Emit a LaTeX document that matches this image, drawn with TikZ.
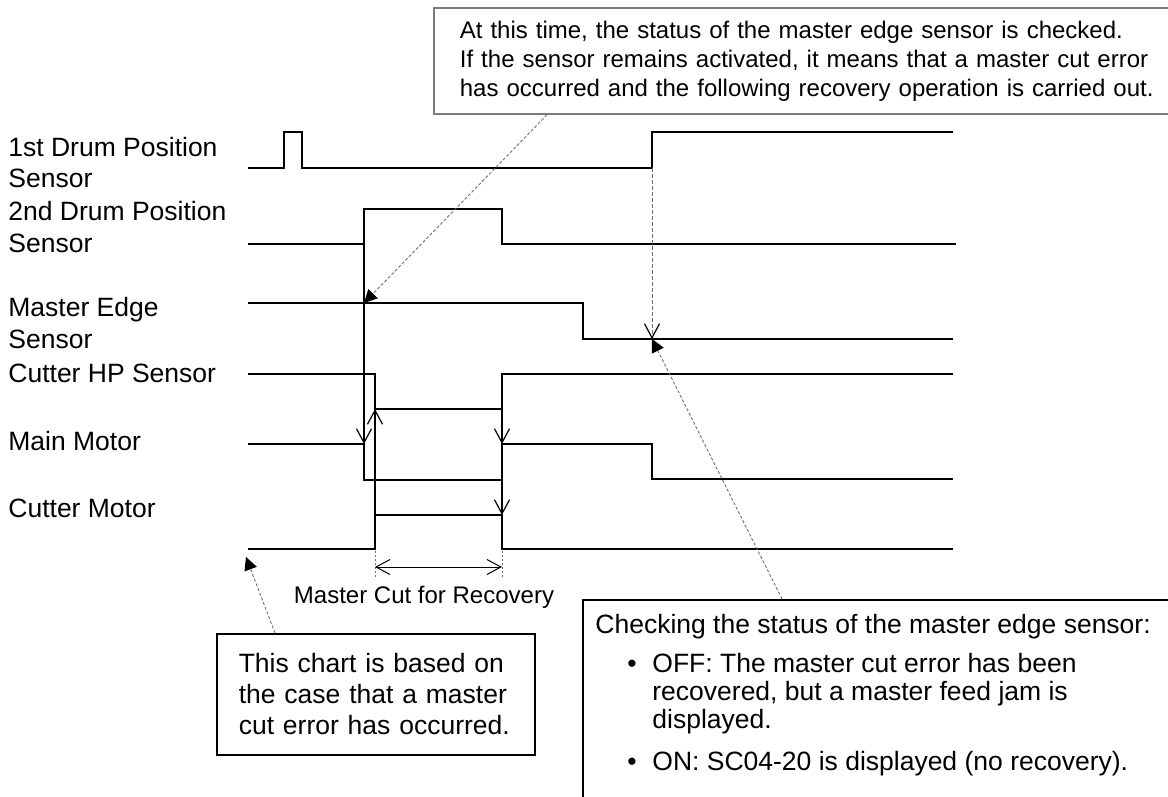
\documentclass[tikz,border=0pt]{standalone}
\usepackage{fontspec}
\setmainfont{Liberation Sans}
\usetikzlibrary{arrows.meta,positioning}
\definecolor{ink}{HTML}{000000}
\definecolor{callgray}{HTML}{6E6E6E}
\definecolor{framegray}{HTML}{7A7A7A}
\newcommand{\lblfont}{\fontsize{13.25}{15.75}\selectfont}
\newcommand{\notefont}{\fontsize{12}{14.5}\selectfont}
\newcommand{\boxfont}{\fontsize{13.25}{15.5}\selectfont}
\newcommand{\listfont}{\fontsize{13.25}{14}\selectfont}
\newcommand{\bul}{\makebox[28.5pt][l]{\hspace*{16pt}\textbullet}}
\tikzset{
  sig/.style={draw=ink,line width=1pt,line join=miter},
  barb/.style={draw=ink,line width=1pt,-{Straight Barb[length=7pt,width=7.5pt,line width=.6pt]}},
  trig/.style={draw=callgray,line width=.5pt,dash pattern=on 2pt off 1pt,-{Straight Barb[length=7pt,width=7.5pt,line width=.6pt,ink]}},
  callout/.style={draw=callgray,line width=.45pt,dash pattern=on 1.5pt off 1pt,-{Triangle[length=6.5pt,width=6.5pt,ink]}},
  extline/.style={draw=callgray,line width=.4pt,dash pattern=on 1pt off 1pt},
  dimline/.style={draw=ink,line width=.5pt,{Straight Barb[length=7pt,width=7.5pt]}-{Straight Barb[length=7pt,width=7.5pt]}},
  lbl/.style={anchor=base west,align=left,font=\lblfont,inner sep=0pt},
  note/.style={draw=framegray,line width=.9pt,align=left,inner ysep=0pt},
  notebox/.style={draw=ink,line width=.8pt,align=left,inner ysep=0pt},
}
\begin{document}
\begin{tikzpicture}[x=0.5pt,y=-0.5pt]
  \useasboundingbox (0,0) rectangle (1168,797);
  \clip (0,0) rectangle (1168,797);
  % signal names
  \node[lbl] (drum1) at (8,188) {1st Drum Position\\Sensor};
  \node[lbl] (drum2) at (8,252) {2nd Drum Position\\Sensor};
  \node[lbl] (edge) at (8,348) {Master Edge\\Sensor};
  \node[lbl] (cuthp) at (8,382) {Cutter HP Sensor};
  \node[lbl] (mainm) at (8,450) {Main Motor};
  \node[lbl] (cutm) at (8,517) {Cutter Motor};
  % waveforms
  \draw[sig] (248,168) -- (284,168) -- (284,132) -- (302,132) -- (302,168) -- (652,168) -- (652,132) -- (953,132);
  \draw[sig] (248,244) -- (364,244) -- (364,209) -- (502,209) -- (502,244) -- (956,244);
  \draw[sig] (248,303) -- (583,303) -- (583,339) -- (953,339);
  \draw[sig] (248,374) -- (375,374) -- (375,409) -- (502,409) -- (502,374) -- (953,374);
  \draw[sig] (248,444) -- (364,444) -- (364,480) -- (502,480) -- (502,444) -- (652,444) -- (652,479) -- (953,479);
  \draw[sig] (248,549) -- (375,549) -- (375,515) -- (502,515) -- (502,549) -- (953,549);
  % timing relations
  \coordinate (drumUp) at (364,244);
  \coordinate (mainStop) at (364,444);
  \coordinate (cutStart) at (375,515);
  \coordinate (hpOff) at (375,409);
  \coordinate (hpOn) at (502,409);
  \coordinate (mainRun) at (502,444);
  \coordinate (mainLow) at (502,480);
  \coordinate (cutStop) at (502,515);
  \coordinate (drumOne) at (652,168);
  \coordinate (edgeOff) at (652,339);
  \draw[barb] (drumUp) -- (mainStop);
  \draw[barb] (cutStart) -- (hpOff);
  \draw[barb] (hpOn) -- (mainRun);
  \draw[barb] (mainLow) -- (cutStop);
  \draw[trig] (drumOne) -- (edgeOff);
  % master cut span
  \coordinate (spanL) at (375,551);
  \coordinate (spanR) at (502,551);
  \draw[extline] (spanL) -- ++(0,27);
  \draw[extline] (spanR) -- ++(0,27);
  \draw[dimline] (375,567) -- (502,567);
  \node[font=\fontsize{12}{14}\selectfont,anchor=base,inner sep=0pt] (spanlbl) at (424,603) {Master Cut for Recovery};
  % notes
  \node[note,font=\notefont,anchor=north west,text width=370pt,inner xsep=13pt,minimum height=53pt] (check1) at (433,7)
    {At this time, the status of the master edge sensor is checked.\\
     If the sensor remains activated, it means that a master cut error\\
     has occurred and the following recovery operation is carried out.};
  \node[notebox,font=\boxfont,anchor=north west,text width=137pt,inner xsep=11pt,minimum height=60.5pt] (basis) at (216,633)
    {This chart is based on\\the case that a master\\cut error has occurred.};
  \node[notebox,draw=ink,line width=1pt,anchor=north west,minimum width=320pt,minimum height=120pt] (check2) at (582,599) {};
  \node[font=\listfont,align=left,anchor=base west,inner sep=0pt] (check2txt) at (595,770)
    {Checking the status of the master edge sensor:\\[5.5pt]
     \bul OFF: The master cut error has been\\
     \hspace*{28.5pt}recovered, but a master feed jam is\\
     \hspace*{28.5pt}displayed.\\[7pt]
     \bul ON: SC04-20 is displayed (no recovery).};
  \coordinate (edgeOn) at (364,303);
  \coordinate (cutBase) at (246,557);
  \draw[callout] ([xshift=57pt]check1.south west) -- (edgeOn);
  \draw[callout] ([xshift=100pt]check2.north west) -- (edgeOff);
  \draw[callout] ([xshift=29.5pt]basis.north west) -- (cutBase);
\end{tikzpicture}
\end{document}
